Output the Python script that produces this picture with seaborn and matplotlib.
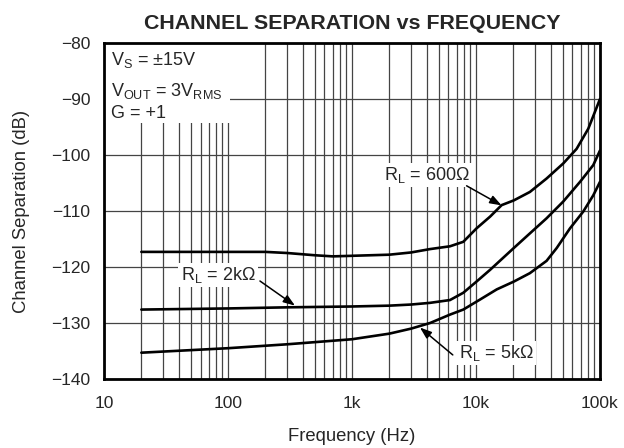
import numpy as np
import pandas as pd
import matplotlib
matplotlib.use("Agg")
import matplotlib.pyplot as plt
import matplotlib.ticker as mticker
from matplotlib.patches import Rectangle
import seaborn as sns

# --------------------------------------------------------------------------- #
# Data (frequency in Hz, separation in dB)
# --------------------------------------------------------------------------- #
freq_600 = [20, 50, 100, 200, 300, 500, 700, 1000, 2000, 3000, 4260, 6170,
            7900, 10100, 13000, 16100, 20200, 27200, 37100, 50600, 64800,
            80500, 100000]
sep_600 = [-117.3, -117.3, -117.3, -117.3, -117.5, -117.9, -118.1, -118.0,
           -117.8, -117.4, -116.8, -116.3, -115.5, -113.1, -111.0, -108.95,
           -108.1, -106.6, -104.2, -101.5, -98.9, -95.3, -90.0]

freq_2k = [20, 100, 300, 1000, 2000, 3000, 4260, 6170, 7900, 10100, 13000,
           20200, 27200, 37100, 50600, 69000, 88300, 100000]
sep_2k = [-127.6, -127.4, -127.2, -127.05, -126.9, -126.7, -126.4, -125.9,
          -124.6, -122.6, -120.5, -116.6, -114.0, -111.3, -108.3, -104.8,
          -101.8, -99.2]

freq_5k = [20, 100, 300, 1000, 2000, 3000, 4260, 6170, 7900, 10800, 14700,
           20200, 27200, 37100, 44800, 57300, 73300, 88300, 100000]
sep_5k = [-135.3, -134.5, -133.8, -132.9, -131.9, -131.0, -130.0, -128.5,
          -127.6, -125.8, -124.0, -122.6, -121.1, -118.9, -116.6, -113.1,
          -110.1, -107.2, -104.8]

x_ticks = [10, 100, 1000, 10000, 100000]
x_ticklabels = ["10", "100", "1k", "10k", "100k"]
y_ticks = [-80, -90, -100, -110, -120, -130, -140]

df = pd.concat([
    pd.DataFrame({"freq": freq_600, "sep": sep_600, "load": "600"}),
    pd.DataFrame({"freq": freq_2k, "sep": sep_2k, "load": "2k"}),
    pd.DataFrame({"freq": freq_5k, "sep": sep_5k, "load": "5k"}),
], ignore_index=True)

# --------------------------------------------------------------------------- #
# Figure
# --------------------------------------------------------------------------- #
sns.set_style("ticks")
plt.rcParams["font.family"] = ["Liberation Sans", "DejaVu Sans"]
plt.rcParams["mathtext.fontset"] = "custom"
plt.rcParams["mathtext.rm"] = "Liberation Sans"

fig = plt.figure(figsize=(6.24, 4.48), dpi=100)
ax = fig.add_axes([0.1667, 0.154, 0.7948, 0.750])

sns.lineplot(data=df, x="freq", y="sep", hue="load", sort=False,
             palette=["black"] * 3, linewidth=1.9, legend=False, ax=ax,
             zorder=3)

ax.set_xscale("log")
ax.set_xlim(10, 100000)
ax.set_ylim(-140, -80)
ax.set_xticks(x_ticks)
ax.set_xticklabels(x_ticklabels)
ax.xaxis.set_minor_locator(mticker.LogLocator(base=10, subs=np.arange(2, 10)))
ax.xaxis.set_minor_formatter(mticker.NullFormatter())
ax.set_yticks(y_ticks)
ax.set_yticklabels([f"\u2212{abs(v)}" for v in y_ticks])
ax.tick_params(axis="both", which="both", length=0, labelsize=12.5)
ax.tick_params(axis="x", pad=12.5)
ax.tick_params(axis="y", pad=10)

ax.set_axisbelow(True)
ax.grid(True, which="major", axis="both", color="#444444", linewidth=0.9)
ax.grid(True, which="minor", axis="x", color="#444444", linewidth=0.9)
for s in ax.spines.values():
    s.set_linewidth(2.0)
    s.set_color("black")
    s.set_zorder(5)

ax.set_xlabel("Frequency (Hz)", fontsize=13.3, labelpad=12)
ax.set_ylabel("Channel Separation (dB)", fontsize=13.3, labelpad=15)
ax.set_title("CHANNEL SEPARATION vs FREQUENCY", fontsize=15.4,
             fontweight="bold", pad=10)

# conditions box in the upper-left corner
ax.add_patch(Rectangle((0, 0.762), 0.254, 0.238, transform=ax.transAxes,
                       facecolor="white", edgecolor="none", zorder=1))
cond = [r"V$_\mathregular{S}$ = ±15V",
        r"V$_\mathregular{OUT}$ = 3V$_\mathregular{RMS}$",
        "G = +1"]
cond_y = [0.9345, 0.842, 0.778]
for t, yy in zip(cond, cond_y):
    ax.text(0.015, yy, t, transform=ax.transAxes,
            fontsize=13, va="baseline", ha="left", zorder=4)

# curve labels with arrows
box = dict(facecolor="white", edgecolor="none", pad=1.5)
arrow = dict(arrowstyle="-|>,head_length=0.7,head_width=0.25",
             color="black", lw=1.1, shrinkA=0, shrinkB=0)
ax.text(4030, -103.6, r"R$_\mathregular{L}$ = 600Ω", fontsize=13,
        ha="center", va="center", bbox=box, zorder=4)
ax.annotate("", xy=(16100, -109.0), xytext=(8400, -105.5),
            arrowprops=arrow, zorder=4)

ax.text(83, -121.4, r"R$_\mathregular{L}$ = 2kΩ", fontsize=13,
        ha="center", va="center", bbox=box, zorder=4)
ax.annotate("", xy=(347, -126.9), xytext=(181, -122.5),
            arrowprops=arrow, zorder=4)

ax.text(14500, -135.3, r"R$_\mathregular{L}$ = 5kΩ", fontsize=13,
        ha="center", va="center", bbox=box, zorder=4)
ax.annotate("", xy=(3530, -130.8), xytext=(6500, -135.7),
            arrowprops=arrow, zorder=4)

fig.savefig("out.png", dpi=100)
